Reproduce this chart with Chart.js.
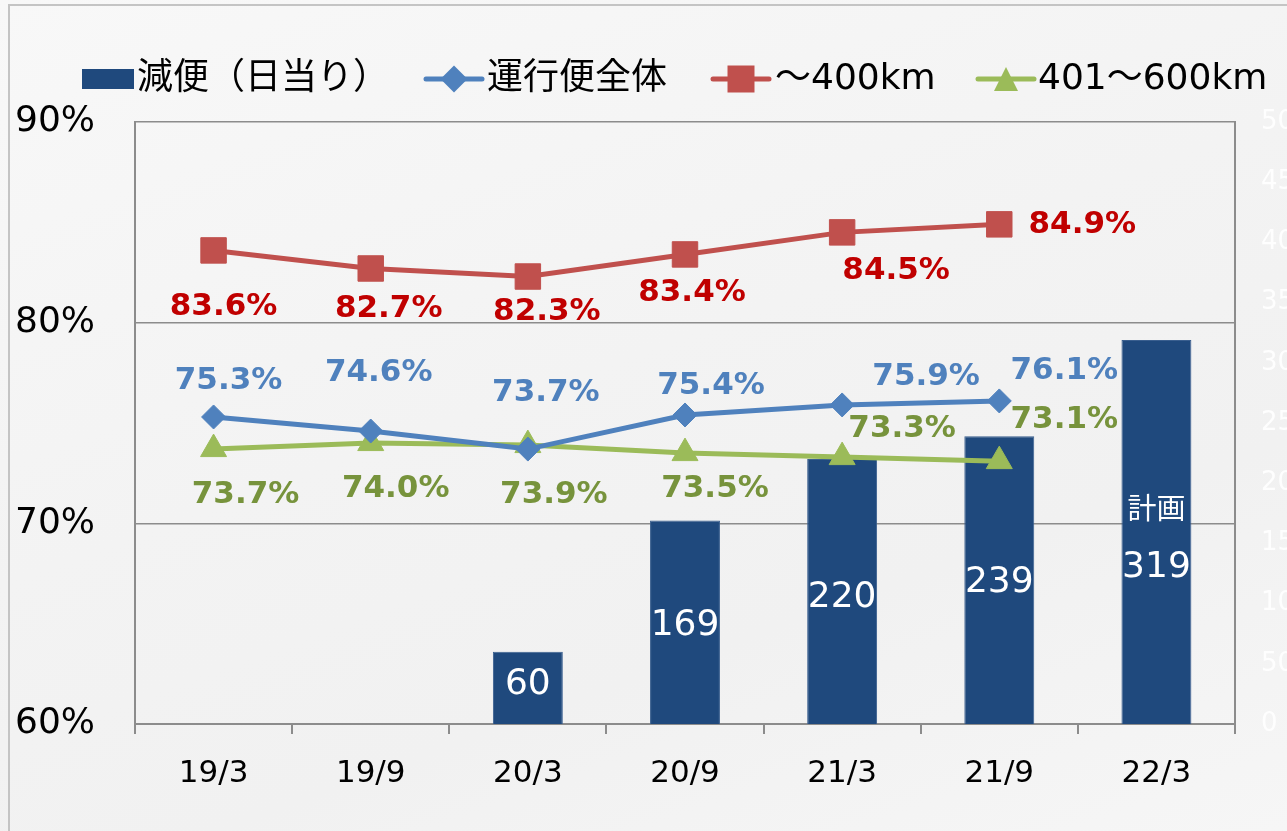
<!DOCTYPE html>
<html>
<head>
<meta charset="utf-8">
<script src="https://cdn.jsdelivr.net/npm/chart.js@4"></script>
<style>
  html, body { margin: 0; padding: 0; }
  body {
    width: 1287px; height: 831px; overflow: hidden; position: relative;
    background: linear-gradient(160deg, #f8f8f8 0%, #f3f3f3 45%, #f1f1f1 70%, #f6f6f6 100%);
  }
  #frame {
    position: absolute; left: 8px; top: 4px; right: -4px; bottom: -4px;
    border-left: 2px solid #c4c4c4; border-top: 2px solid #c4c4c4;
  }
  #chart { position: absolute; left: 0; top: 0; }
</style>
</head>
<body>
<div id="frame"></div>
<canvas id="chart" width="1287" height="831"></canvas>
<script>
  const categories = ['19/3', '19/9', '20/3', '20/9', '21/3', '21/9', '22/3'];
  const reducedFlights = [null, null, 60, 169, 220, 239, 319];
  const allFlights = [75.3, 74.6, 73.7, 75.4, 75.9, 76.1, null];
  const upTo400 = [83.6, 82.7, 82.3, 83.4, 84.5, 84.9, null];
  const from401to600 = [73.7, 74.0, 73.9, 73.5, 73.3, 73.1, null];
  const barNotes = [null, null, null, null, null, null, '計画'];

  const NAVY = '#1F497D';
  const BLUE = '#4F81BD';
  const RED = '#C0504D';
  const GREEN = '#9BBB59';
  const GRID = '#8c8c8c';

  // label offsets from each point, in pixels [dx, dy]
  const labelOffsets = {
    red: [[10, 57], [18, 40], [19, 35], [7, 39], [54, 39], [83, 1]],
    blue: [[15, -36], [8, -58], [18, -56], [26, -29], [84, -28], [65, -30]],
    green: [[32, 46], [25, 46], [26, 50], [30, 36], [60, -28], [65, -41]]
  };
  const labelColors = { red: '#C00000', blue: '#4F81BD', green: '#77933C' };
  const barLabelShift = [0, 0, -3, 3, 6, 3, 36];

  function drawMarker(ctx, style, x, y, size, color) {
    ctx.save();
    ctx.fillStyle = color;
    ctx.beginPath();
    if (style === 'rect') {
      ctx.rect(x - size / 2, y - size / 2, size, size);
    } else if (style === 'diamond') {
      ctx.moveTo(x, y - size / 2);
      ctx.lineTo(x + size / 2, y);
      ctx.lineTo(x, y + size / 2);
      ctx.lineTo(x - size / 2, y);
      ctx.closePath();
    } else {
      ctx.moveTo(x, y - size / 2);
      ctx.lineTo(x + size / 2, y + size / 2);
      ctx.lineTo(x - size / 2, y + size / 2);
      ctx.closePath();
    }
    ctx.fill();
    ctx.restore();
  }

  const legendPlugin = {
    id: 'customLegend',
    afterDraw(chart) {
      const ctx = chart.ctx;
      const y = 79;
      ctx.save();
      ctx.textBaseline = 'middle';
      ctx.textAlign = 'left';
      ctx.font = '36px "DejaVu Sans", "Noto Sans CJK JP"';

      ctx.fillStyle = NAVY;
      ctx.fillRect(82, 69, 52, 20);
      ctx.fillStyle = '#000';
      ctx.fillText('減便（日当り）', 137, y + 1);

      const lines = [
        { from: 426, to: 482, color: BLUE, style: 'diamond', size: 27, text: '運行便全体', tx: 487 },
        { from: 713, to: 769, color: RED, style: 'rect', size: 27, text: '〜400km', tx: 775 },
        { from: 978, to: 1034, color: GREEN, style: 'triangle', size: 24, text: '401〜600km', tx: 1038 }
      ];
      lines.forEach(item => {
        ctx.strokeStyle = item.color;
        ctx.lineWidth = 5;
        ctx.lineCap = 'round';
        ctx.beginPath();
        ctx.moveTo(item.from, y);
        ctx.lineTo(item.to, y);
        ctx.stroke();
        drawMarker(ctx, item.style, (item.from + item.to) / 2, y, item.size, item.color);
        ctx.fillStyle = '#000';
        ctx.fillText(item.text, item.tx, y + 1);
      });
      ctx.restore();
    }
  };

  const labelPlugin = {
    id: 'pointLabels',
    afterDatasetsDraw(chart) {
      const ctx = chart.ctx;
      ctx.save();
      ctx.textAlign = 'center';
      ctx.textBaseline = 'middle';

      chart.data.datasets.forEach((ds, i) => {
        const meta = chart.getDatasetMeta(i);
        if (ds.type === 'bar') {
          meta.data.forEach((bar, j) => {
            const v = ds.data[j];
            if (v == null) return;
            const cy = (bar.y + bar.base) / 2 + barLabelShift[j];
            ctx.fillStyle = '#fff';
            ctx.font = '36px "DejaVu Sans"';
            ctx.fillText(String(v), bar.x, cy);
            if (barNotes[j]) {
              ctx.font = '29px "Noto Sans CJK JP"';
              ctx.fillText(barNotes[j], bar.x, cy - 60);
            }
          });
          return;
        }
        const key = ds.labelKey;
        ctx.fillStyle = labelColors[key];
        ctx.font = 'bold 31px "DejaVu Sans"';
        meta.data.forEach((pt, j) => {
          const v = ds.data[j];
          if (v == null) return;
          const off = labelOffsets[key][j];
          ctx.fillText(v.toFixed(1) + '%', pt.x + off[0], pt.y + off[1]);
        });
      });
      ctx.restore();
    }
  };

  new Chart(document.getElementById('chart').getContext('2d'), {
    data: {
      labels: categories,
      datasets: [
        {
          type: 'line',
          label: '運行便全体',
          labelKey: 'blue',
          data: allFlights,
          yAxisID: 'y',
          borderColor: BLUE,
          backgroundColor: BLUE,
          borderWidth: 5,
          pointStyle: 'rectRot',
          pointRadius: 12,
          pointBorderWidth: 1,
          order: 0
        },
        {
          type: 'line',
          label: '〜400km',
          labelKey: 'red',
          data: upTo400,
          yAxisID: 'y',
          borderColor: RED,
          backgroundColor: RED,
          borderWidth: 5,
          pointStyle: 'rect',
          pointRadius: 18,
          pointBorderWidth: 1,
          order: 0
        },
        {
          type: 'line',
          label: '401〜600km',
          labelKey: 'green',
          data: from401to600,
          yAxisID: 'y',
          borderColor: GREEN,
          backgroundColor: GREEN,
          borderWidth: 5,
          pointStyle: 'triangle',
          pointRadius: 15,
          pointBorderWidth: 1,
          order: 0
        },
        {
          type: 'bar',
          label: '減便（日当り）',
          data: reducedFlights,
          yAxisID: 'y1',
          backgroundColor: NAVY,
          borderColor: '#3a5f8f',
          borderWidth: 1,
          barPercentage: 0.445,
          categoryPercentage: 1,
          order: 1
        }
      ]
    },
    options: {
      responsive: false,
      animation: false,
      layout: {
        padding: { top: 122, right: 0, bottom: 0, left: 0 }
      },
      scales: {
        x: {
          offset: true,
          grid: {
            offset: true,
            drawOnChartArea: false,
            color: GRID,
            lineWidth: 2,
            tickLength: 10
          },
          border: { color: GRID, width: 2 },
          ticks: {
            color: '#000',
            padding: 21,
            font: { family: 'DejaVu Sans', size: 31 }
          },
          afterFit: scale => { scale.height = 107; }
        },
        y: {
          position: 'left',
          min: 60,
          max: 90,
          grid: {
            color: GRID,
            lineWidth: 1.5,
            drawTicks: false
          },
          border: { color: GRID, width: 2 },
          ticks: {
            stepSize: 10,
            color: '#000',
            padding: 40,
            font: { family: 'DejaVu Sans', size: 36 },
            callback: v => v + '%'
          },
          afterFit: scale => { scale.width = 135; }
        },
        y1: {
          position: 'right',
          min: 0,
          max: 500,
          grid: { display: false, drawTicks: false },
          border: { color: GRID, width: 2 },
          ticks: {
            stepSize: 50,
            color: 'rgba(255,255,255,0.9)',
            padding: 26,
            font: { family: 'DejaVu Sans', size: 26 }
          },
          afterFit: scale => { scale.width = 52; }
        }
      },
      plugins: {
        legend: { display: false },
        tooltip: { enabled: false }
      }
    },
    plugins: [legendPlugin, labelPlugin]
  });
</script>
</body>
</html>
